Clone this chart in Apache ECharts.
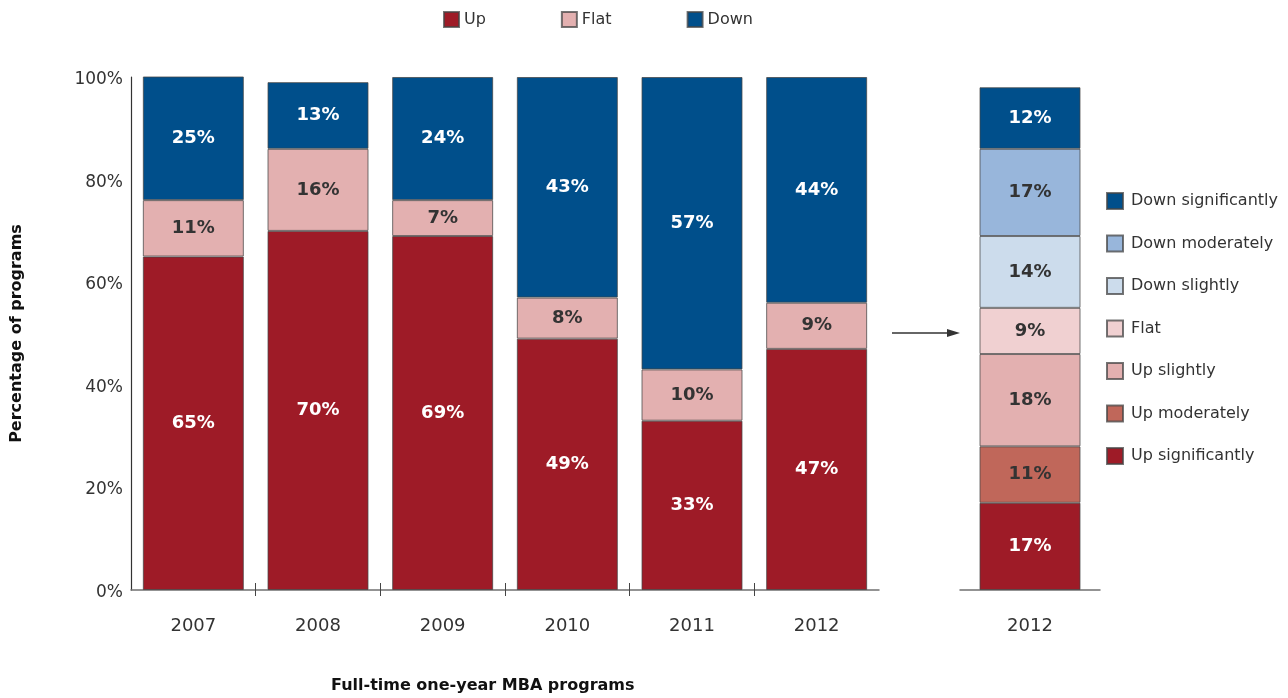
<!DOCTYPE html>
<html>
<head>
<meta charset="utf-8">
<script src="https://cdn.jsdelivr.net/npm/echarts@6/dist/echarts.min.js"></script>
<style>
  html, body { margin: 0; padding: 0; background: #fff; }
  #chart { width: 1288px; height: 698px; }
</style>
</head>
<body>
<div id="chart"></div>
<script>
// Yearly direction of application volume, full-time one-year MBA programs
const years = ['2007', '2008', '2009', '2010', '2011', '2012'];
const upValues = [65, 70, 69, 49, 33, 47];
const flatValues = [11, 16, 7, 8, 10, 9];
const downValues = [25, 13, 24, 43, 57, 44];

// 2012 breakdown by intensity (bottom to top)
const detailCategory = ['2012'];
const detailNames = ['Up significantly', 'Up moderately', 'Up slightly', 'Flat',
                     'Down slightly', 'Down moderately', 'Down significantly'];
const detailValues = [17, 11, 18, 9, 14, 17, 12];

const yTicks = [0, 20, 40, 60, 80, 100];

const mainColors = { Up: '#9E1B27', Flat: '#E3B0B0', Down: '#004F8B' };
const detailColors = ['#9E1B27', '#C0675A', '#E3B0B0', '#F0D0D1', '#CCDCEC', '#98B6DB', '#004F8B'];
const detailLabelColors = ['#fff', '#333', '#333', '#333', '#333', '#333', '#fff'];

const REG = 'DejaVu Sans';
const border = { borderColor: 'rgba(70,70,70,0.75)', borderWidth: 1 };

function mainSeries(name, values, labelColor) {
  return {
    name: name, type: 'bar', stack: 'main', xAxisIndex: 0, yAxisIndex: 0,
    barWidth: 101,
    itemStyle: Object.assign({ color: mainColors[name] }, border),
    label: {
      show: true, position: 'inside', formatter: '{c}%',
      color: labelColor, fontFamily: REG, fontWeight: 'bold', fontSize: 18
    },
    data: values
  };
}

const series = [
  mainSeries('Up', upValues, '#fff'),
  mainSeries('Flat', flatValues, '#333'),
  mainSeries('Down', downValues, '#fff')
];

detailNames.forEach(function (n, i) {
  series.push({
    name: n, type: 'bar', stack: 'detail', xAxisIndex: 1, yAxisIndex: 1,
    barWidth: 101,
    itemStyle: Object.assign({ color: detailColors[i] }, border),
    label: {
      show: true, position: 'inside', formatter: '{c}%',
      color: detailLabelColors[i], fontFamily: REG, fontWeight: 'bold', fontSize: 18
    },
    data: [detailValues[i]]
  });
});

// separator positions between neighbouring year columns (1 .. n-1)
const separators = years.slice(1).map(function (_, i) { return i + 1; });

function separatorAxis(inside) {
  return {
    type: 'value', gridIndex: 0, position: 'bottom',
    min: 0, max: years.length, interval: 1,
    axisLine: { show: false },
    axisTick: { show: true, inside: inside, length: inside ? 7 : 6, customValues: separators,
                lineStyle: { color: '#444', width: 1 } },
    axisLabel: { show: false },
    splitLine: { show: false }
  };
}

const option = {
  animation: false,
  backgroundColor: '#fff',
  legend: [
    {
      data: ['Up', 'Flat', 'Down'],
      left: 438, top: 6, itemWidth: 15, itemHeight: 15, itemGap: 75,
      icon: 'rect',
      textStyle: { color: '#333', fontFamily: REG, fontSize: 16, lineHeight: 16 },
      selectedMode: false
    },
    {
      data: detailNames.slice().reverse().map(function (n) {
        const i = detailNames.indexOf(n);
        return { name: n, itemStyle: { color: detailColors[i] } };
      }),
      orient: 'vertical', left: 1101, top: 187,
      itemWidth: 16, itemHeight: 16, itemGap: 24.5,
      icon: 'rect',
      textStyle: { color: '#333', fontFamily: REG, fontSize: 16, lineHeight: 16,
                   padding: [0, 0, 0, 3] },
      selectedMode: false
    }
  ],
  grid: [
    { left: 131, top: 77, width: 748, height: 513 },
    { left: 960, top: 77, width: 140, height: 513 }
  ],
  xAxis: [
    {
      type: 'category', gridIndex: 0, data: years,
      axisLine: { lineStyle: { color: '#707070', width: 1.5 } },
      axisTick: { show: false },
      axisLabel: { color: '#333', fontFamily: REG, fontSize: 18, margin: 27 }
    },
    {
      type: 'category', gridIndex: 1, data: detailCategory,
      axisLine: { lineStyle: { color: '#707070', width: 1.5 } },
      axisTick: { show: false },
      axisLabel: { color: '#333', fontFamily: REG, fontSize: 18, margin: 27 }
    },
    separatorAxis(false),
    separatorAxis(true)
  ],
  yAxis: [
    {
      type: 'value', gridIndex: 0, min: yTicks[0], max: yTicks[yTicks.length - 1], interval: 20,
      name: 'Percentage of programs', nameLocation: 'middle', nameGap: 106,
      nameTextStyle: { color: '#111', fontFamily: REG, fontWeight: 'bold', fontSize: 16 },
      axisLine: { show: true, lineStyle: { color: '#333', width: 1.2 } },
      axisTick: { show: false },
      splitLine: { show: false },
      axisLabel: { color: '#333', fontFamily: REG, fontSize: 17, margin: 8,
                   verticalAlign: 'top', lineHeight: 5, formatter: '{value}%' }
    },
    {
      type: 'value', gridIndex: 1, min: 0, max: 100, interval: 20,
      show: false, splitLine: { show: false }
    }
  ],
  graphic: [
    {
      type: 'text', left: 331, top: 678,
      style: { text: 'Full-time one-year MBA programs',
               fill: '#111', font: 'bold 16px "DejaVu Sans"' }
    },
    {
      type: 'line', shape: { x1: 892, y1: 333, x2: 950, y2: 333 },
      style: { stroke: '#333', lineWidth: 1.3 }
    },
    {
      type: 'polygon', shape: { points: [[947, 329], [960, 333], [947, 337]] },
      style: { fill: '#333' }
    }
  ],
  series: series
};

const chart = echarts.init(document.getElementById('chart'), null, { renderer: 'canvas' });
chart.setOption(option);
</script>
</body>
</html>
